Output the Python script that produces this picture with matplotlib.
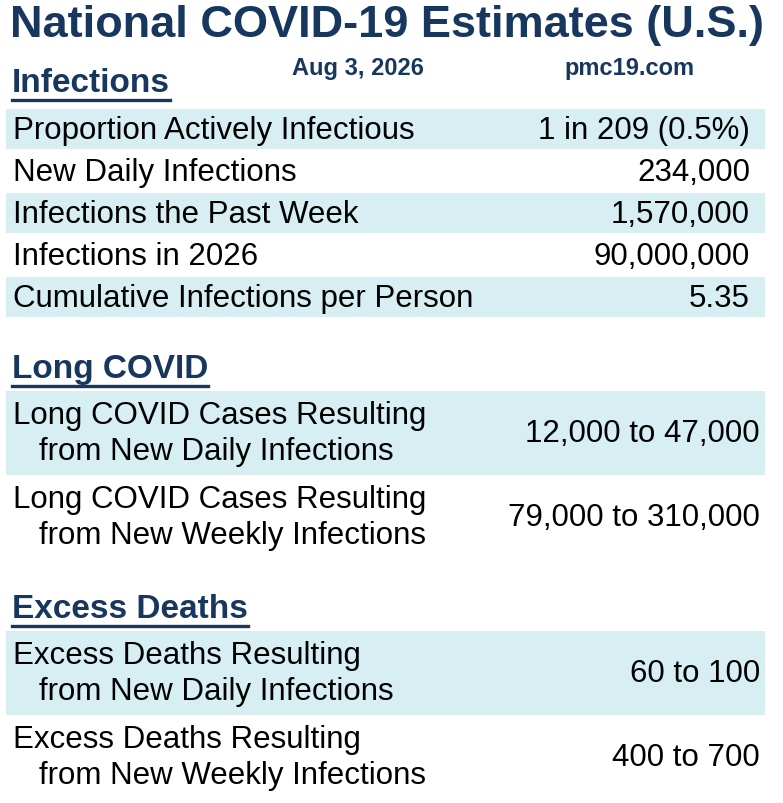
import matplotlib
matplotlib.use("Agg")
import matplotlib.pyplot as plt
from matplotlib.patches import Rectangle

plt.rcParams['font.family'] = ['Liberation Sans', 'DejaVu Sans']

title = "National COVID-19 Estimates (U.S.)"
date_text = "Aug 3, 2026"
site_text = "pmc19.com"

inf_labels = ["Proportion Actively Infectious", "New Daily Infections",
              "Infections the Past Week", "Infections in 2026",
              "Cumulative Infections per Person"]
inf_values = ["1 in 209 (0.5%)", "234,000", "1,570,000", "90,000,000", "5.35"]

lc_labels = ["Long COVID Cases Resulting\n   from New Daily Infections",
             "Long COVID Cases Resulting\n   from New Weekly Infections"]
lc_values = ["12,000 to 47,000", "79,000 to 310,000"]

ed_labels = ["Excess Deaths Resulting\n   from New Daily Infections",
             "Excess Deaths Resulting\n   from New Weekly Infections"]
ed_values = ["60 to 100", "400 to 700"]

W, H = 783, 804
fig = plt.figure(figsize=(W/100, H/100), dpi=100)
ax = fig.add_axes([0, 0, 1, 1])
ax.set_xlim(0, W); ax.set_ylim(H, 0); ax.axis('off')

navy = "#17375e"
band = "#d7eff3"
fs_row = 22.5

ax.text(387, 26, title, ha='center', va='center', fontsize=32.5, fontweight='bold', color=navy)
ax.text(358, 68, date_text, ha='center', va='center', fontsize=17, fontweight='bold', color=navy)
ax.text(630, 68, site_text, ha='center', va='center', fontsize=17, fontweight='bold', color=navy)

def header(y, s):
    t = ax.text(12, y, s, ha='left', va='center', fontsize=24, fontweight='bold', color=navy)
    fig.canvas.draw()
    bb = t.get_window_extent()
    ax.plot([12, 12 + bb.width], [y + 17, y + 17], color=navy, lw=2.4)

header(84, "Infections")
y0, h = 110, 42
for i, (l, v) in enumerate(zip(inf_labels, inf_values)):
    top = y0 + i * h
    if i % 2 == 0:
        ax.add_patch(Rectangle((6, top), 759, h - 2, color=band, lw=0))
    ax.text(13, top + h/2, l, ha='left', va='center', fontsize=fs_row, color='black')
    ax.text(750, top + h/2, v, ha='right', va='center', fontsize=fs_row, color='black')

def block(y0, labels, values):
    h = 84
    for i, (l, v) in enumerate(zip(labels, values)):
        top = y0 + i * h
        if i % 2 == 0:
            ax.add_patch(Rectangle((6, top), 759, h, color=band, lw=0))
        ax.text(13, top + h/2, l, ha='left', va='center', fontsize=fs_row,
                color='black', linespacing=1.3)
        ax.text(760, top + h/2, v, ha='right', va='center', fontsize=fs_row, color='black')

header(370, "Long COVID")
block(392, lc_labels, lc_values)
header(610, "Excess Deaths")
block(632, ed_labels, ed_values)

fig.savefig("out.png", dpi=100)
